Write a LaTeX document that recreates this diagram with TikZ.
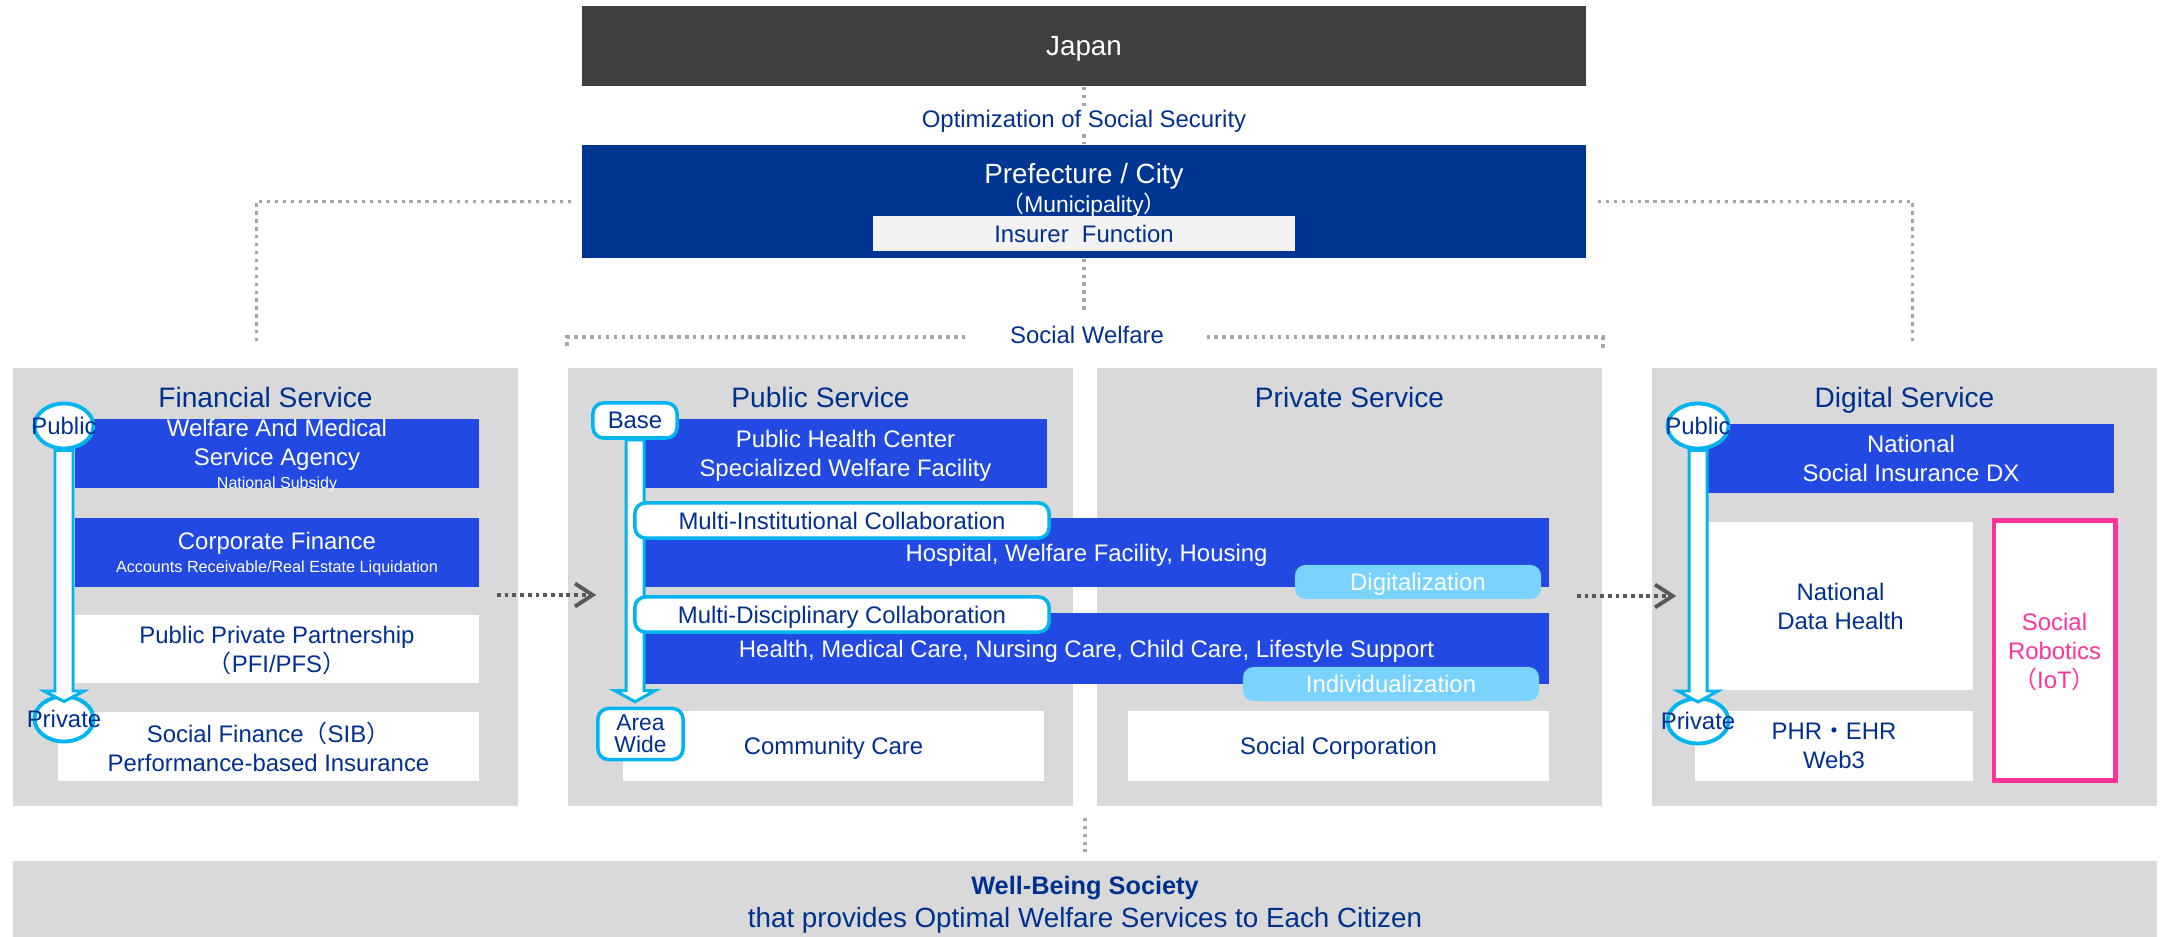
\documentclass[tikz,border=0pt]{standalone}
\usepackage{fontspec}
\setmainfont{Liberation Sans}
\newfontfamily\cjk{Noto Sans CJK JP}
\usepackage{tikz}
\usetikzlibrary{
    calc,
    shapes.geometric,
    arrows.meta
}
\definecolor{panelgray}{HTML}{D9D9D9}
\definecolor{japangray}{HTML}{404040}
\definecolor{prefblue}{HTML}{003591}
\definecolor{royal}{HTML}{2249E1}
\definecolor{skyblue}{HTML}{7AD3FF}
\definecolor{cyanline}{HTML}{00B4F0}
\definecolor{textnavy}{HTML}{00308F}
\definecolor{robopink}{HTML}{FF3399}
\definecolor{dotgray}{HTML}{A6A6A6}
\definecolor{flowgray}{HTML}{595959}
\definecolor{insurergray}{HTML}{F2F2F2}
\newcommand\jlp{{\cjk （}}
\newcommand\jrp{{\cjk ）}}
\tikzset{
  basic/.style = {
      inner sep=0pt,
      align=center,
      font=\fontsize{6.8}{8.25}\selectfont
  },
  flat/.style = {
      text depth=0pt
  },
  panel/.style = {
      basic,
      fill=panelgray,
      minimum width=5.05cm,
      minimum height=4.38cm
  },
  heading/.style = {
      font=\fontsize{8}{9.5}\selectfont,
      text=textnavy,
      text depth=0pt
  },
  bluebox/.style = {
      basic,
      fill=royal,
      text=white
  },
  whitebox/.style = {
      basic,
      fill=white,
      text=textnavy
  },
  skytag/.style = {
      basic,
      flat,
      fill=skyblue,
      text=white,
      rounded corners=3pt,
      minimum height=0.34cm
  },
  collab/.style = {
      basic,
      draw=cyanline,
      line width=1pt,
      fill=white,
      text=textnavy,
      rounded corners=3pt
  },
  robot/.style = {
      basic,
      draw=robopink,
      line width=1.4pt,
      fill=white,
      text=robopink
  },
  ends/.style = {
      ellipse,
      draw=cyanline,
      line width=1.1pt,
      fill=white,
      inner sep=0pt,
      minimum height=0.45cm
  },
  endlabel/.style = {
      basic,
      text=textnavy
  },
  blockarrow/.style = {
      draw=cyanline,
      line width=0.85pt,
      fill=white
  },
  dotline/.style = {
      draw=dotgray,
      line width=0.95pt,
      dash pattern=on 0.95pt off 1.3pt
  },
  flow/.style = {
      draw=flowgray,
      line width=1.1pt,
      dash pattern=on 1.1pt off 1.1pt,
      -{Straight Barb[length=5pt,width=6.5pt]}
  }
}
\begin{document}
\begin{tikzpicture}[x=0.01cm, y=-0.01cm]
        \useasboundingbox (0,0) rectangle (2160,937);
        % Top
        \node[basic, flat, fill=japangray, text=white, minimum width=10.04cm, minimum height=0.8cm,
              font=\fontsize{7.9}{9}\selectfont] (japan) at (1084,46) {Japan};
        \node[basic, fill=prefblue, minimum width=10.04cm, minimum height=1.13cm] (pref) at (1084,201.5) {};
        \node[basic, flat, text=white, font=\fontsize{7.9}{9}\selectfont] (prefname) at (1084,173) {Prefecture / City};
        \node[basic, flat, text=white, font=\fontsize{6.5}{8}\selectfont] (muni) at (1084,203) {\jlp Municipality\jrp};
        \node[basic, fill=insurergray, text=textnavy, minimum width=4.22cm, minimum height=0.35cm]
            (insurer) at (1084,233.5) {Insurer\ \ Function};
        \draw[dotline] (japan.south) -- node[basic, flat, pos=0.55, fill=white, inner sep=1pt, text=textnavy] (optim)
            {Optimization of Social Security} (pref.north);
        \node[basic, text=textnavy] (welfare) at (1087,335) {Social Welfare};
        % Panels
        \node[panel] (fin) at (265.5,587) {};
        \node[panel] (pub) at (820.5,587) {};
        \node[panel] (priv) at (1349.5,587) {};
        \node[panel] (dig) at (1904.5,587) {};
        \node[heading] (fintitle) at ($(fin.north)+(0,30)$) {Financial Service};
        \node[heading] (pubtitle) at ($(pub.north)+(0,30)$) {Public Service};
        \node[heading] (privtitle) at ($(priv.north)+(0,30)$) {Private Service};
        \node[heading] (digtitle) at ($(dig.north)+(0,30)$) {Digital Service};
        % Dotted links
        \draw[dotline] (pref.south) -- ($(pref.south |- welfare.north)+(0,-14)$);
        \draw[dotline] ($(welfare.west)+(-44,2)$) -| ($(pub.north west)+(0,-18)$);
        \draw[dotline] ($(welfare.east)+(42,2)$) -| ($(priv.north east)+(0,-18)$);
        \draw[dotline] ($(pref.west)+(-10,0)$) -| ($(fin.north)+(-9,-24)$);
        \draw[dotline] ($(pref.east)+(11,0)$) -| ($(dig.north)+(8,-24)$);
        % Financial Service
        \node[bluebox, flat, minimum width=4.04cm, minimum height=0.69cm] (agency) at (277,453.5)
            {Welfare And Medical\\Service Agency\\[-1.8pt]{\fontsize{4.55}{6}\selectfont National Subsidy}};
        \node[bluebox, flat, minimum width=4.04cm, minimum height=0.69cm] (corp) at (277,552.5)
            {Corporate Finance\\[-1.7pt]{\fontsize{4.6}{6}\selectfont Accounts Receivable/Real Estate Liquidation}};
        \node[whitebox, flat, minimum width=4.04cm, minimum height=0.68cm] (ppp) at (277,649)
            {Public Private Partnership\\\jlp PFI/PFS\jrp};
        \node[whitebox, minimum width=4.21cm, minimum height=0.69cm] (sib) at (268.5,746.5)
            {Social Finance\jlp SIB\jrp\\Performance-based Insurance};
        \node[ends, minimum width=0.59cm] (fpub) at (64,426) {};
        \node[ends, minimum width=0.59cm] (fpriv) at (64,719) {};
        \draw[blockarrow] ($(fpub.south)+(-9,0)$) -- ($(fpriv.center)+(-9,-28)$) -- ++(-11,0)
            -- ($(fpriv.center)+(0,-17.5)$) -- ($(fpriv.center)+(20,-28)$) -- ++(-11,0)
            -- ($(fpub.south)+(9,0)$) -- cycle;
        \node[endlabel] at (fpub) {Public};
        \node[endlabel] at (fpriv) {Private};
        % Public / Private Service
        \node[bluebox, flat, minimum width=4.03cm, minimum height=0.69cm] (phc) at (845.5,453.5)
            {Public Health Center\\Specialized Welfare Facility};
        \node[bluebox, flat, minimum width=9.05cm, minimum height=0.69cm] (hosp) at (1096.5,552.5)
            {\kern-0.2cm Hospital, Welfare Facility, Housing};
        \node[bluebox, flat, minimum width=9.05cm, minimum height=0.71cm] (care) at (1096.5,648.5)
            {\kern-0.2cm Health, Medical Care, Nursing Care, Child Care, Lifestyle Support};
        \node[whitebox, flat, minimum width=4.21cm, minimum height=0.70cm] (community) at (833.5,746) {Community Care};
        \node[whitebox, flat, minimum width=4.21cm, minimum height=0.70cm] (socorp) at (1338.5,746) {Social Corporation};
        \node[skytag, minimum width=2.46cm] (digit) at (1418,582) {Digitalization};
        \node[skytag, minimum width=2.96cm] (indiv) at (1391,684) {Individualization};
        \node[collab, minimum width=0.84cm, minimum height=0.35cm] (base) at (635,420.5) {Base};
        \node[collab, minimum width=0.85cm, minimum height=0.51cm, font=\fontsize{6.5}{6.3}\selectfont]
            (area) at (640.5,734) {Area\\Wide};
        \draw[blockarrow] ($(base.south)+(-9,0)$) -- ($(base.south |- area.north)+(-9,-16)$) -- ++(-11,0)
            -- ($(base.south |- area.north)+(0,-5)$) -- ($(base.south |- area.north)+(20,-16)$) -- ++(-11,0)
            -- ($(base.south)+(9,0)$) -- cycle;
        \node[collab, flat, minimum width=4.14cm, minimum height=0.35cm] (multiinst) at (842,520.5)
            {Multi-Institutional Collaboration};
        \node[collab, flat, minimum width=4.14cm, minimum height=0.35cm] (multidisc) at (842,614.5)
            {Multi-Disciplinary Collaboration};
        % Digital Service
        \node[bluebox, minimum width=4.06cm, minimum height=0.69cm] (dx) at (1911,458.5)
            {National\\Social Insurance DX};
        \node[whitebox, minimum width=2.65cm, minimum height=1.67cm] (datahealth) at (1840.5,606)
            {National\\Data Health};
        \node[whitebox, minimum width=2.78cm, minimum height=0.70cm] (phr) at (1834,746)
            {PHR{\cjk ・}EHR\\Web3};
        \node[robot, flat, minimum width=1.21cm, minimum height=2.59cm] (robotics) at (2054.5,650.5)
            {Social\\Robotics\\\jlp IoT\jrp};
        \node[ends, minimum width=0.61cm] (dpub) at (1698,426) {};
        \node[ends, minimum width=0.61cm] (dpriv) at (1698,721) {};
        \draw[blockarrow] ($(dpub.south)+(-9,0)$) -- ($(dpriv.center)+(-9,-30)$) -- ++(-11,0)
            -- ($(dpriv.center)+(0,-19)$) -- ($(dpriv.center)+(20,-30)$) -- ++(-11,0)
            -- ($(dpub.south)+(9,0)$) -- cycle;
        \node[endlabel] at (dpub) {Public};
        \node[endlabel] at (dpriv) {Private};
        % Flow between panels
        \draw[flow] ($(fin.east)+(-22,8)$) -- ($(pub.west)+(29,8)$);
        \draw[flow] ($(priv.east)+(-26,9)$) -- ($(dig.west)+(25,9)$);
        % Bottom
        \node[basic, fill=panelgray, minimum width=21.42cm, minimum height=0.87cm, text=textnavy,
              font=\fontsize{7.9}{9.4}\selectfont] (wellbeing) at (1085,904.5)
            {{\fontsize{7.2}{9.4}\selectfont\bfseries Well-Being Society}\\that provides Optimal Welfare Services to Each Citizen};
        \coordinate (mid) at ($(pub.south east)!.5!(priv.south west)$);
        \draw[dotline] ($(mid)+(0,11)$) -- ($(mid |- wellbeing.north)+(0,-8)$);
\end{tikzpicture}
\end{document}
